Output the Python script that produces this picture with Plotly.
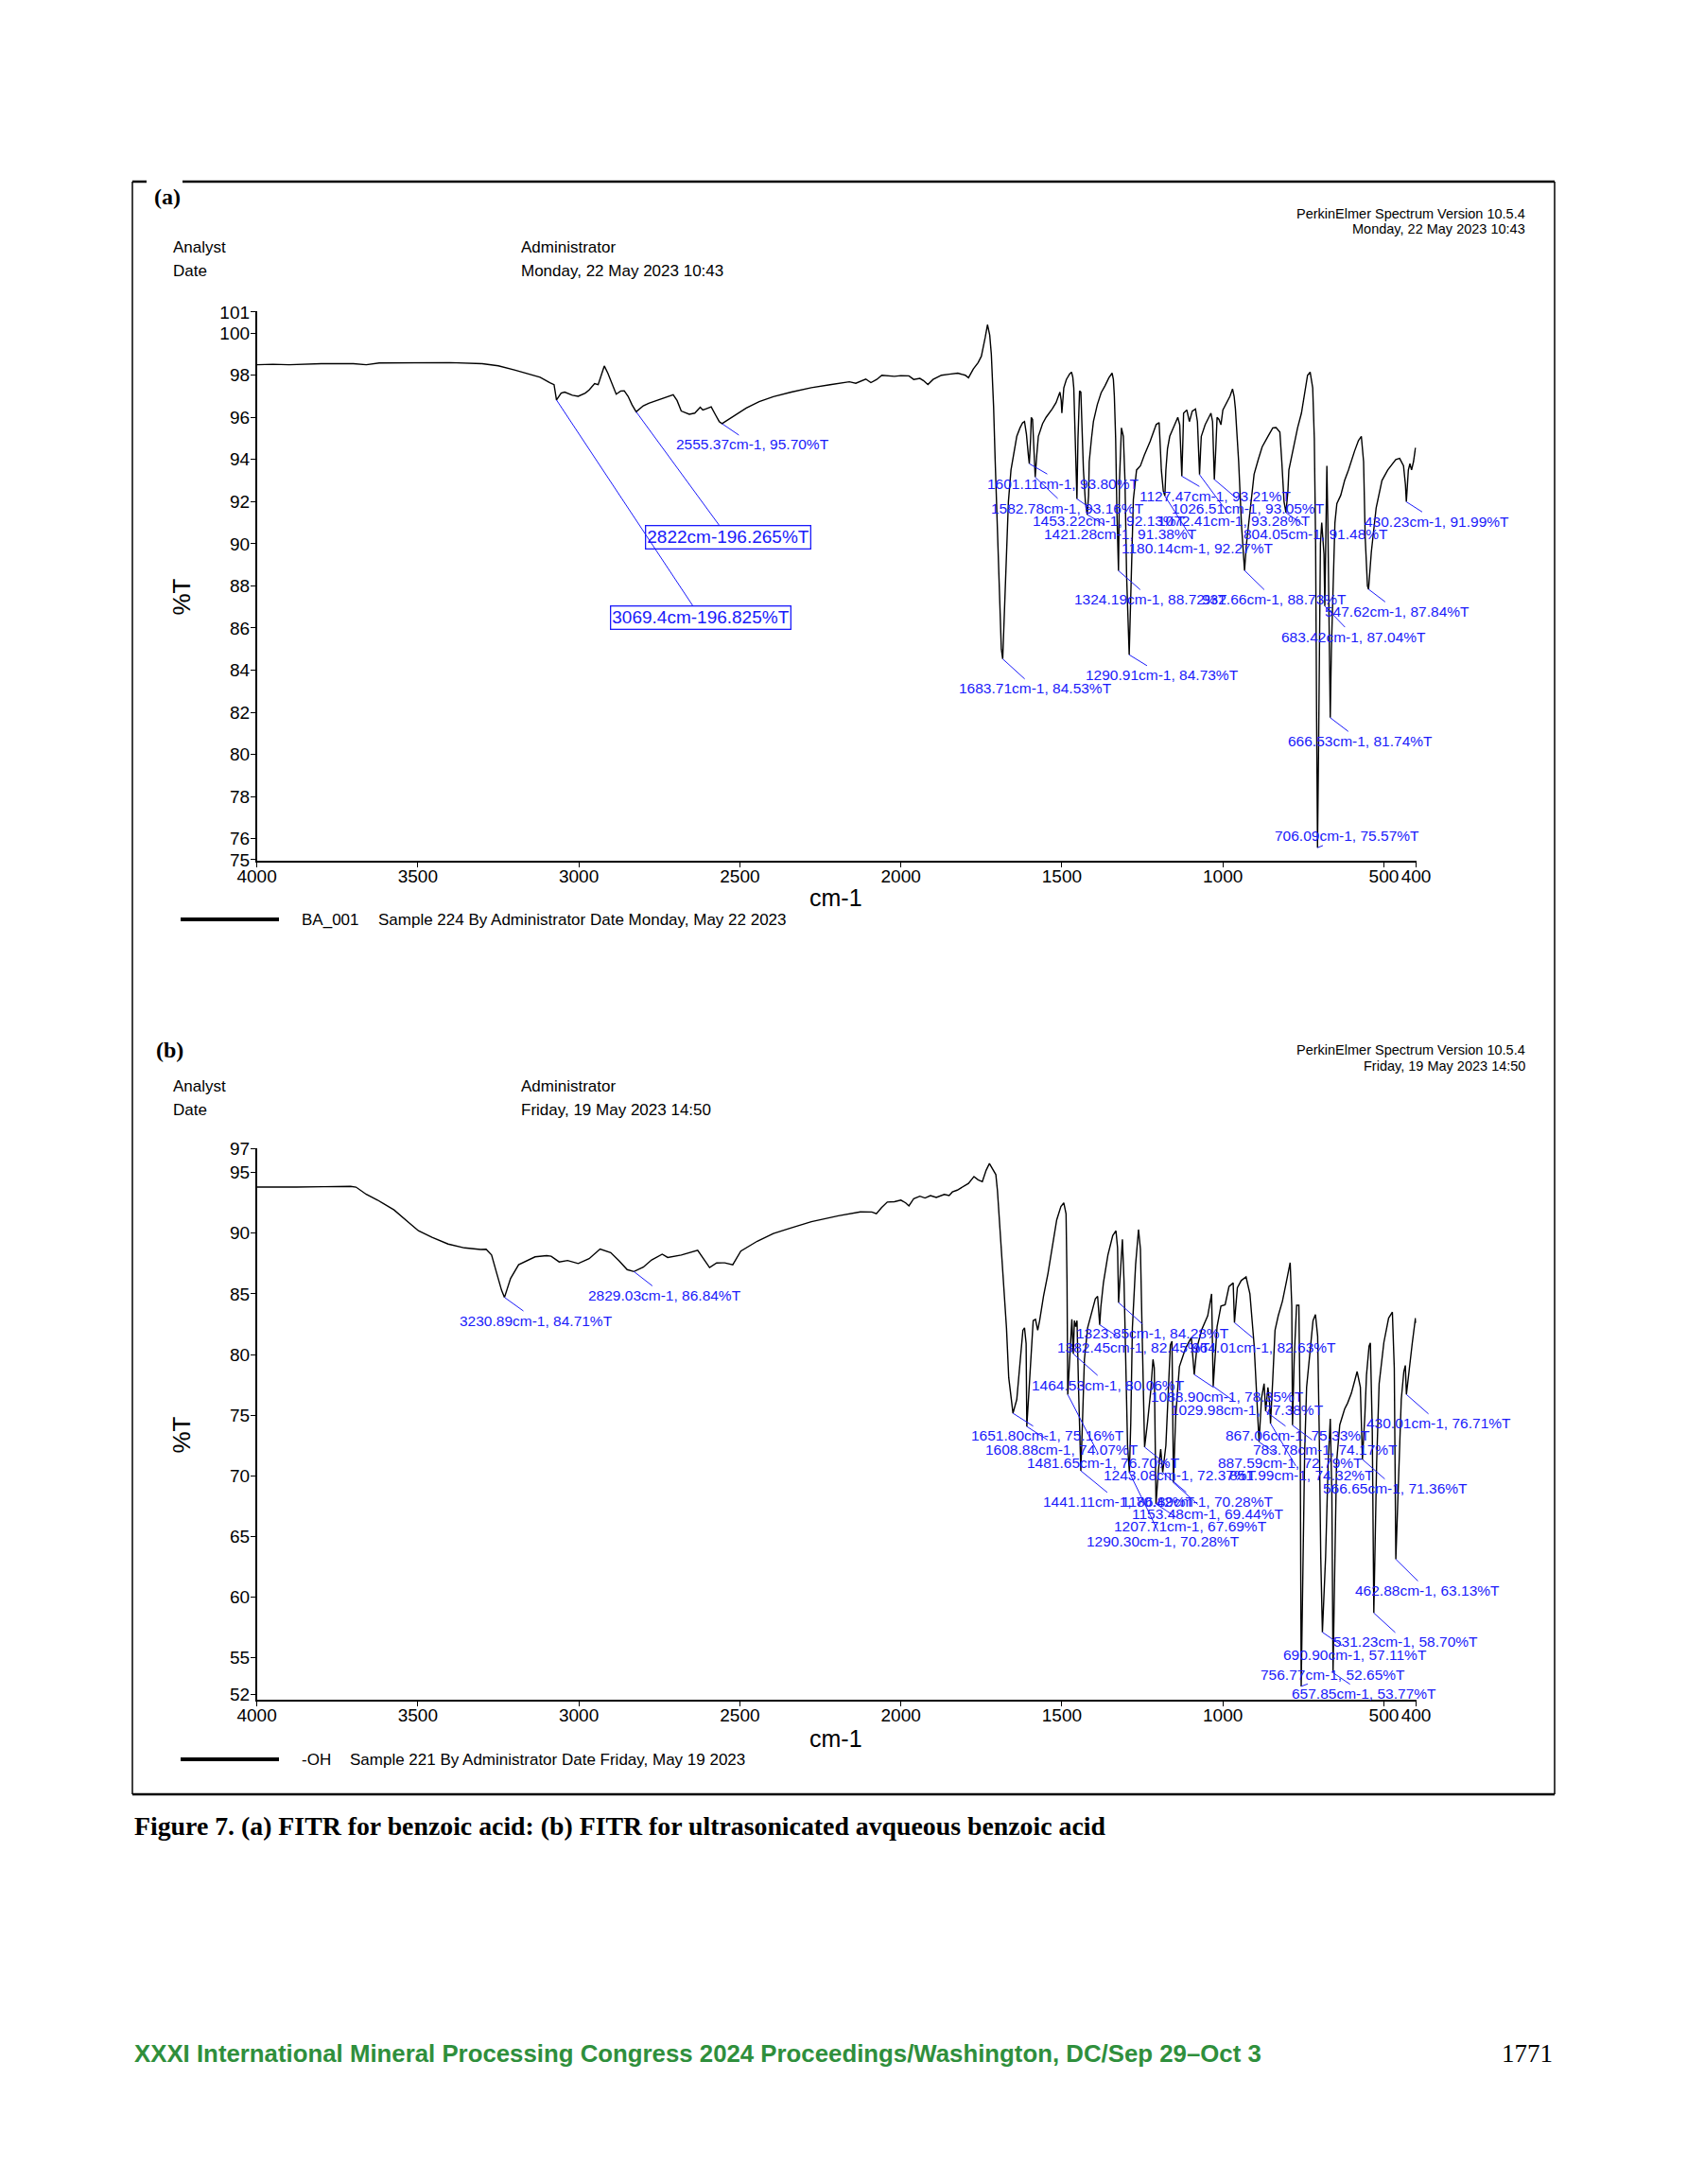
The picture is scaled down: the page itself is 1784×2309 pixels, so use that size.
import plotly.graph_objects as go

# ---------------- DATA ----------------
# Panel (a): benzoic acid, wavenumber (cm-1) and %T
a_wn = [4000, 3950, 3900, 3850, 3800, 3700, 3660, 3620, 3500, 3400,
        3300, 3250, 3200, 3150, 3120, 3090, 3077, 3069.4, 3055, 3044,
        3020, 3002, 2980, 2968, 2951, 2940, 2921, 2910, 2900, 2884,
        2870, 2859, 2847, 2835, 2822, 2800, 2783, 2750, 2732, 2707,
        2695, 2682, 2657, 2640, 2623, 2615, 2606, 2589, 2575, 2564,
        2555.37, 2530, 2480, 2440, 2396, 2340, 2278, 2220, 2160, 2140,
        2109, 2093, 2075, 2059, 2020, 2000, 1975, 1960, 1941, 1930,
        1916, 1900, 1874, 1850, 1823, 1800, 1790, 1775, 1760, 1750,
        1744, 1738, 1731, 1724, 1719, 1712, 1707, 1700, 1695, 1688,
        1683.71, 1675, 1666, 1658, 1650, 1640, 1630, 1622, 1616, 1610,
        1604, 1601.11, 1597, 1595, 1591, 1587, 1582.78, 1578, 1573, 1560,
        1549, 1530, 1518, 1506, 1502, 1500, 1496, 1494, 1486, 1476,
        1470, 1466, 1463, 1459, 1453.22, 1450, 1448, 1445, 1441, 1439,
        1433, 1427, 1421.28, 1417, 1415, 1408, 1402, 1390, 1378, 1366,
        1354, 1344, 1340, 1337, 1333, 1329, 1324.19, 1321, 1318, 1315,
        1312, 1309, 1304, 1299, 1290.91, 1285, 1280, 1278, 1268, 1256,
        1244, 1226, 1207, 1198, 1194, 1191, 1185, 1180.14, 1177, 1172,
        1165, 1152, 1140, 1134, 1130, 1127.47, 1124, 1122, 1112, 1104,
        1095, 1085, 1079, 1075, 1072.41, 1069, 1067, 1055, 1045, 1037,
        1032, 1029, 1026.51, 1022, 1018, 1012, 1006, 1000, 988, 978,
        970, 965, 961, 951, 942, 932.66, 927, 915, 903, 890,
        878, 860, 845, 835, 823, 817, 810, 804.05, 798, 795,
        780, 768, 756, 745, 737, 729, 721, 716, 712, 709,
        706.09, 703, 700, 697, 693, 690, 686, 683.42, 680, 677,
        674, 670, 666.53, 663, 657, 652, 646, 634, 622, 610,
        591, 579, 570, 563, 558, 551, 547.62, 539, 524, 506,
        488, 463, 451, 439, 433, 430.23, 424, 419, 414, 408, 402, 400]
a_t = [98.50, 98.52, 98.50, 98.53, 98.55, 98.55, 98.50, 98.58, 98.60, 98.60,
       98.55, 98.45, 98.25, 98.05, 97.90, 97.65, 97.55, 96.825, 97.15, 97.20,
       97.05, 97.00, 97.15, 97.30, 97.60, 97.55, 98.44, 98.10, 97.70, 97.10,
       97.25, 97.26, 97.00, 96.60, 96.265, 96.55, 96.67, 96.85, 96.95, 97.07,
       96.80, 96.30, 96.15, 96.20, 96.48, 96.35, 96.40, 96.50, 96.10, 95.80,
       95.70, 95.95, 96.44, 96.75, 96.98, 97.20, 97.41, 97.55, 97.69, 97.62,
       97.82, 97.65, 97.80, 98.00, 97.95, 97.98, 97.97, 97.80, 97.85, 97.75,
       97.56, 97.80, 98.00, 98.05, 98.10, 98.00, 97.88, 98.30, 98.60, 98.90,
       99.30, 99.80, 100.40, 99.90, 99.00, 96.50, 93.90, 90.50, 87.50, 85.00,
       84.53, 88.00, 92.00, 93.50, 94.30, 95.10, 95.50, 95.74, 95.80, 95.20,
       94.20, 93.80, 95.00, 96.00, 95.90, 94.50, 93.16, 94.20, 95.10, 95.70,
       96.00, 96.40, 96.70, 97.20, 96.80, 96.20, 96.80, 97.40, 97.80, 98.06,
       98.15, 97.90, 97.40, 95.50, 92.13, 95.00, 96.50, 97.26, 97.20, 96.40,
       93.50, 92.00, 91.38, 92.30, 93.90, 95.00, 95.80, 96.60, 97.17, 97.50,
       97.88, 98.10, 97.80, 97.00, 95.00, 91.50, 88.72, 93.00, 94.50, 95.50,
       95.30, 95.10, 93.00, 88.50, 84.73, 88.50, 91.50, 92.10, 93.50, 93.70,
       94.20, 94.85, 95.66, 95.75, 94.50, 93.50, 92.50, 92.27, 93.50, 94.50,
       95.10, 95.60, 96.00, 95.65, 94.50, 93.21, 95.00, 96.20, 96.35, 95.80,
       96.30, 96.40, 95.80, 94.50, 93.28, 94.50, 95.10, 95.65, 96.00, 96.20,
       95.80, 94.50, 93.05, 94.50, 96.00, 95.90, 95.65, 96.35, 96.70, 97.00,
       97.35, 97.00, 96.40, 93.90, 90.85, 88.73, 89.95, 91.70, 93.30, 94.00,
       94.60, 95.10, 95.50, 95.52, 95.30, 93.90, 92.00, 91.48, 92.50, 93.50,
       94.60, 95.50, 96.20, 97.20, 98.00, 98.15, 97.40, 95.00, 90.00, 82.00,
       75.57, 80.00, 87.00, 90.00, 91.00, 90.50, 89.50, 87.04, 90.00, 93.70,
       91.00, 86.75, 81.74, 85.00, 88.50, 91.00, 91.90, 92.30, 93.00, 93.50,
       94.40, 94.90, 95.10, 93.90, 90.30, 88.00, 87.84, 89.60, 91.70, 93.00,
       93.50, 94.00, 94.05, 93.70, 92.80, 91.99, 93.50, 93.80, 93.50, 93.90, 94.55, 94.50]

# Panel (a) labelled peaks
a_pk_wn = [2555.37, 1683.71, 1601.11, 1582.78, 1453.22, 1421.28, 1324.19, 1290.91, 1180.14, 1127.47,
           1072.41, 1026.51, 932.66, 804.05, 706.09, 683.42, 666.53, 547.62, 430.23]
a_pk_t = [95.70, 84.53, 93.80, 93.16, 92.13, 91.38, 88.72, 84.73, 92.27, 93.21,
          93.28, 93.05, 88.73, 91.48, 75.57, 87.04, 81.74, 87.84, 91.99]
a_box_wn = [2822, 3069.4]
a_box_t = [96.265, 96.825]

# Panel (b): ultrasonicated aqueous benzoic acid
b_wn = [4000, 3950, 3877, 3793, 3709, 3692, 3660, 3625, 3574, 3524,
        3498, 3456, 3406, 3355, 3305, 3288, 3271, 3254, 3240, 3230.89,
        3212, 3187, 3136, 3100, 3086, 3061, 3035, 3002, 2968, 2934,
        2901, 2875, 2850, 2829.03, 2800, 2774, 2741, 2724, 2682, 2631,
        2614, 2594, 2572, 2547, 2522, 2497, 2446, 2396, 2345, 2278,
        2194, 2126, 2090, 2076, 2060, 2042, 2020, 2000, 1985, 1975,
        1960, 1941, 1925, 1908, 1890, 1865, 1850, 1840, 1825, 1806,
        1790, 1773, 1760, 1747, 1735, 1725, 1715, 1705, 1700, 1689,
        1680, 1672, 1665, 1655, 1651.80, 1640, 1631, 1621, 1616, 1611,
        1608.88, 1596, 1589, 1582, 1575, 1569, 1557, 1543, 1528, 1516,
        1503, 1494, 1487, 1484, 1481.65, 1473, 1469, 1464.53, 1461, 1457,
        1453, 1448, 1441.11, 1436, 1430, 1420, 1405, 1396, 1389, 1382.45,
        1379, 1371, 1357, 1342, 1332, 1327, 1323.85, 1318, 1312, 1307,
        1301, 1296, 1290.30, 1286, 1281, 1271, 1262, 1256, 1251, 1243.08,
        1234, 1224, 1217, 1213, 1207.71, 1200, 1193, 1186.89, 1177, 1169,
        1163, 1158, 1153.48, 1146.6, 1135, 1116, 1098, 1088.90, 1081, 1066,
        1047, 1035, 1029.98, 1018, 1006, 993, 981, 968, 964.01, 955,
        943, 928, 916, 903, 893, 887.59, 880, 872, 867.06, 860,
        855, 851.99, 845, 838, 828, 815, 803.5, 791, 786, 783.78,
        778, 771, 764, 760, 756.77, 752, 746, 740, 730, 720,
        712.5, 705.6, 700.7, 696, 690.90, 681, 673, 666.4, 661.5, 657.85,
        652, 647, 637, 622, 612.6, 601, 591, 583, 573, 566.65,
        559, 554, 546, 542, 536, 531.23, 522.5, 514.7, 500, 485.3,
        473.6, 467.7, 462.88, 454, 446, 438, 433.4, 430.01, 419.7, 412, 402, 400]
b_t = [93.80, 93.78, 93.80, 93.83, 93.86, 93.80, 93.20, 92.73, 91.92, 90.79,
       90.20, 89.66, 89.11, 88.79, 88.66, 88.68, 88.20, 86.60, 85.30, 84.71,
       86.27, 87.40, 88.05, 88.15, 88.10, 87.63, 87.75, 87.50, 87.90, 88.69,
       88.40, 87.72, 87.00, 86.84, 87.20, 87.80, 88.27, 88.00, 88.20, 88.60,
       87.90, 87.17, 87.55, 87.56, 87.40, 88.53, 89.34, 89.98, 90.40, 90.95,
       91.44, 91.76, 91.75, 91.60, 92.10, 92.57, 92.60, 92.73, 92.50, 92.25,
       92.85, 93.05, 92.90, 93.10, 92.95, 93.20, 93.10, 93.40, 93.55, 93.86,
       94.10, 94.67, 94.40, 94.25, 95.20, 95.74, 95.30, 94.83, 93.50, 89.20,
       85.00, 82.20, 78.10, 76.00, 75.16, 76.30, 79.10, 82.00, 82.20, 80.90,
       74.07, 80.20, 82.80, 82.90, 82.00, 82.80, 84.80, 86.70, 89.00, 91.10,
       92.20, 92.50, 91.60, 86.00, 76.70, 81.70, 82.90, 80.06, 82.80, 82.30,
       82.80, 77.00, 70.42, 74.40, 79.60, 82.20, 83.80, 84.60, 84.80, 82.45,
       83.90, 85.90, 88.20, 89.80, 90.20, 88.80, 84.28, 87.40, 89.50, 86.10,
       77.00, 72.50, 70.28, 74.40, 82.20, 87.40, 90.30, 88.70, 82.20, 72.37,
       74.40, 77.00, 79.60, 78.90, 67.69, 70.50, 72.20, 70.28, 72.50, 77.85,
       80.80, 81.10, 69.44, 74.90, 79.00, 80.50, 81.40, 78.35, 80.50, 82.03,
       83.20, 85.00, 77.38, 82.30, 84.00, 84.10, 85.60, 85.90, 82.63, 85.50,
       86.10, 86.40, 85.00, 80.80, 75.50, 72.79, 76.40, 77.60, 75.33, 77.30,
       76.00, 74.32, 78.00, 82.00, 83.20, 84.40, 85.90, 87.57, 84.00, 74.17,
       80.00, 84.06, 84.06, 75.00, 52.65, 62.00, 72.00, 77.30, 79.90, 82.80,
       83.30, 81.50, 73.60, 63.30, 57.11, 63.30, 71.10, 74.70, 68.50, 53.77,
       63.30, 71.07, 74.20, 75.50, 76.00, 76.80, 77.80, 78.60, 77.30, 71.36,
       75.00, 78.30, 80.70, 80.95, 73.70, 58.70, 71.07, 77.60, 81.00, 83.00,
       83.50, 78.90, 63.13, 71.07, 76.30, 78.60, 79.10, 76.71, 79.40, 80.90, 83.00, 82.60]

# Panel (b) labelled peaks
b_pk_wn = [3230.89, 2829.03, 1323.85, 1382.45, 964.01, 1464.53, 1088.90, 1029.98, 430.01, 1651.80,
           867.06, 1608.88, 783.78, 1481.65, 887.59, 1243.08, 851.99, 566.65, 1441.11, 1186.89,
           1153.48, 1207.71, 1290.30, 462.88, 531.23, 690.90, 756.77, 657.85]
b_pk_t = [84.71, 86.84, 84.28, 82.45, 82.63, 80.06, 78.35, 77.38, 76.71, 75.16,
          75.33, 74.07, 74.17, 76.70, 72.79, 72.37, 74.32, 71.36, 70.42, 70.28,
          69.44, 67.69, 70.28, 63.13, 58.70, 57.11, 52.65, 53.77]

# Tick labels
x_ticks = [4000, 3500, 3000, 2500, 2000, 1500, 1000, 500, 400]
a_yticks = [75, 76, 78, 80, 82, 84, 86, 88, 90, 92, 94, 96, 98, 100, 101]
b_yticks = [52, 55, 60, 65, 70, 75, 80, 85, 90, 95, 97]

# ---------------- LAYOUT (positions / styles) ----------------
PAGE_W, PAGE_H = 1784, 2309
BODY_MARGIN = 8                       # default page margin kept around the figure
W, H = PAGE_W - 2 * BODY_MARGIN, PAGE_H - 2 * BODY_MARGIN
SANS = "Liberation Sans, Arial, Helvetica, sans-serif"
SERIF = "Liberation Serif, Times New Roman, serif"
BLUE = "#1a1afa"
X0, X1 = 271.6, 1497.5                # page pixel positions of the plot areas
A_TOP, A_BOT = 328.8, 910.0
B_TOP, B_BOT = 1214.0, 1797.0

# label text centres (wavenumber, %T) for each peak label, in the order of the peak lists
a_lab_x = [2459.6, 1583, 1494.5, 1481.7, 1353.7, 1317, 1223, 1188, 1077, 1023,
           966, 922, 841.5, 710, 614.6, 592.7, 572, 457.3, 335]
a_lab_y = [94.71, 83.13, 92.86, 91.70, 91.08, 90.45, 87.37, 83.76, 89.78, 92.27,
           91.08, 91.70, 87.37, 90.45, 76.12, 85.59, 80.64, 86.79, 91.06]
a_box_x = [2536, 2622]
a_box_y = [90.29, 86.5]
b_lab_x = [3131.3, 2734, 1216.7, 1276.9, 871.6, 1356, 984.5, 925.5, 328.2, 1543,
           766.2, 1499, 683.3, 1372, 790, 1132.6, 756.1, 463.7, 1323.4, 1078.7,
           1044.8, 1101.3, 1186.6, 364.6, 432.3, 588, 658.2, 561.6]
b_lab_y = [82.81, 84.88, 81.73, 80.6, 80.6, 77.5, 76.51, 75.41, 74.33, 73.32,
           73.32, 72.18, 72.18, 71.05, 71.05, 70.04, 70.04, 68.96, 67.86, 67.86,
           66.87, 65.83, 64.64, 60.55, 56.31, 55.24, 53.63, 52.05]


def fx(p):
    return (p - BODY_MARGIN) / W


def fy(p):
    return 1 - (p - BODY_MARGIN) / H


fig = go.Figure()
fig.add_trace(go.Scatter(x=a_wn, y=a_t, mode="lines", xaxis="x", yaxis="y",
                         line=dict(color="black", width=1.4), showlegend=False, hoverinfo="skip"))
fig.add_trace(go.Scatter(x=b_wn, y=b_t, mode="lines", xaxis="x2", yaxis="y2",
                         line=dict(color="black", width=1.4), showlegend=False, hoverinfo="skip"))

ax_common = dict(showgrid=False, zeroline=False, showline=True, linecolor="black", linewidth=1.5,
                 ticks="outside", ticklen=5, tickwidth=1.2, tickcolor="black", tickangle=0,
                 automargin=False, tickfont=dict(family=SANS, size=19, color="black"))

fig.update_layout(
    template="none",
    width=W, height=H, autosize=False, margin=dict(l=0, r=0, t=0, b=0, pad=0, autoexpand=False),
    paper_bgcolor="white", plot_bgcolor="white", showlegend=False,
    xaxis=dict(domain=[fx(X0), fx(X1)], range=[4000, 400], anchor="y", ticklabelstandoff=-7,
               tickvals=x_ticks, ticktext=[str(v) for v in x_ticks], **ax_common),
    yaxis=dict(domain=[fy(A_BOT), fy(A_TOP)], range=[74.95, 101.05], anchor="x", ticklabelstandoff=-3,
               tickvals=a_yticks, ticktext=[str(v) for v in a_yticks], **ax_common),
    xaxis2=dict(domain=[fx(X0), fx(X1)], range=[4000, 400], anchor="y2", ticklabelstandoff=-7,
                tickvals=x_ticks, ticktext=[str(v) for v in x_ticks], **ax_common),
    yaxis2=dict(domain=[fy(B_BOT), fy(B_TOP)], range=[51.55, 97.0], anchor="x2", ticklabelstandoff=-3,
                tickvals=b_yticks, ticktext=[str(v) for v in b_yticks], **ax_common),
)

anns = []


def txt(x, y, s, size, xanchor="left", family=SANS, color="black", angle=0):
    anns.append(dict(xref="paper", yref="paper", x=fx(x), y=fy(y), text=s, showarrow=False,
                     xanchor=xanchor, yanchor="middle", textangle=angle,
                     font=dict(family=family, size=size, color=color)))


# panel (a) header
txt(177, 208, "<b>(a)</b>", 24, "center", SERIF)
txt(1615, 226, "PerkinElmer Spectrum Version 10.5.4", 14.5, "right")
txt(1615, 242, "Monday, 22 May 2023 10:43", 14.5, "right")
txt(181, 261, "Analyst", 17)
txt(181, 286, "Date", 17)
txt(549, 261, "Administrator", 17)
txt(549, 286, "Monday, 22 May 2023 10:43", 17)
txt(191.5, 631, "%T", 26, "center", angle=-90)
txt(884, 949, "cm-1", 25, "center")
txt(317, 972, "BA_001", 17)
txt(398, 972, "Sample 224 By Administrator Date Monday, May 22 2023", 17)

# panel (b) header
txt(179, 1110, "<b>(b)</b>", 24, "center", SERIF)
txt(1615, 1110, "PerkinElmer Spectrum Version 10.5.4", 14.5, "right")
txt(1615, 1127, "Friday, 19 May 2023 14:50", 14.5, "right")
txt(181, 1148, "Analyst", 17)
txt(181, 1173, "Date", 17)
txt(549, 1148, "Administrator", 17)
txt(549, 1173, "Friday, 19 May 2023 14:50", 17)
txt(191.5, 1517, "%T", 26, "center", angle=-90)
txt(884, 1838, "cm-1", 25, "center")
txt(317, 1860, "-OH", 17)
txt(368, 1860, "Sample 221 By Administrator Date Friday, May 19 2023", 17)

# caption and footer
txt(140, 1930, "<b>Figure 7. (a) FITR for benzoic acid: (b) FITR for ultrasonicated avqueous benzoic acid</b>",
    27.8, "left", SERIF)
txt(140, 2171, "<b>XXXI International Mineral Processing Congress 2024 Proceedings/Washington, DC/Sep 29–Oct 3</b>",
    25.8, "left", SANS, "#2f8f3c")
txt(1644, 2171, "1771", 27, "right", SERIF)


def peak_label(xr, yr, wn, t, lx, ly, text, size, boxed=False):
    d = dict(xref=xr, yref=yr, axref=xr, ayref=yr, x=wn, y=t, ax=lx, ay=ly, text=text,
             showarrow=True, arrowhead=0, arrowwidth=1, arrowcolor=BLUE, standoff=0,
             font=dict(family=SANS, size=size, color=BLUE))
    if boxed:
        d.update(bordercolor=BLUE, borderwidth=1.3, borderpad=1)
    anns.append(d)


for wn, t, lx, ly in zip(a_pk_wn, a_pk_t, a_lab_x, a_lab_y):
    peak_label("x", "y", wn, t, lx, ly, f"{wn:.2f}cm-1, {t:.2f}%T", 15.5)
for wn, t, lx, ly in zip(a_box_wn, a_box_t, a_box_x, a_box_y):
    peak_label("x", "y", wn, t, lx, ly, f"{wn:g}cm-1{t:g}%T", 19, boxed=True)
for wn, t, lx, ly in zip(b_pk_wn, b_pk_t, b_lab_x, b_lab_y):
    peak_label("x2", "y2", wn, t, lx, ly, f"{wn:.2f}cm-1, {t:.2f}%T", 15.5)

fig.update_layout(annotations=anns)

# frame and legend line samples
shapes = []


def pline(x0, y0, x1, y1, w):
    shapes.append(dict(type="line", xref="paper", yref="paper", x0=fx(x0), y0=fy(y0),
                       x1=fx(x1), y1=fy(y1), line=dict(color="black", width=w)))


pline(140, 192, 155, 192, 2.5)
pline(193, 192, 1644, 192, 2.5)
pline(140, 192, 140, 1897, 1.5)
pline(1644, 192, 1644, 1897, 1.5)
pline(140, 1897, 1644, 1897, 2.5)
pline(191, 972, 295, 972, 4)
pline(191, 1860, 295, 1860, 4)
fig.update_layout(shapes=shapes)

fig.write_html("out.html", config={"displayModeBar": False, "responsive": False})
